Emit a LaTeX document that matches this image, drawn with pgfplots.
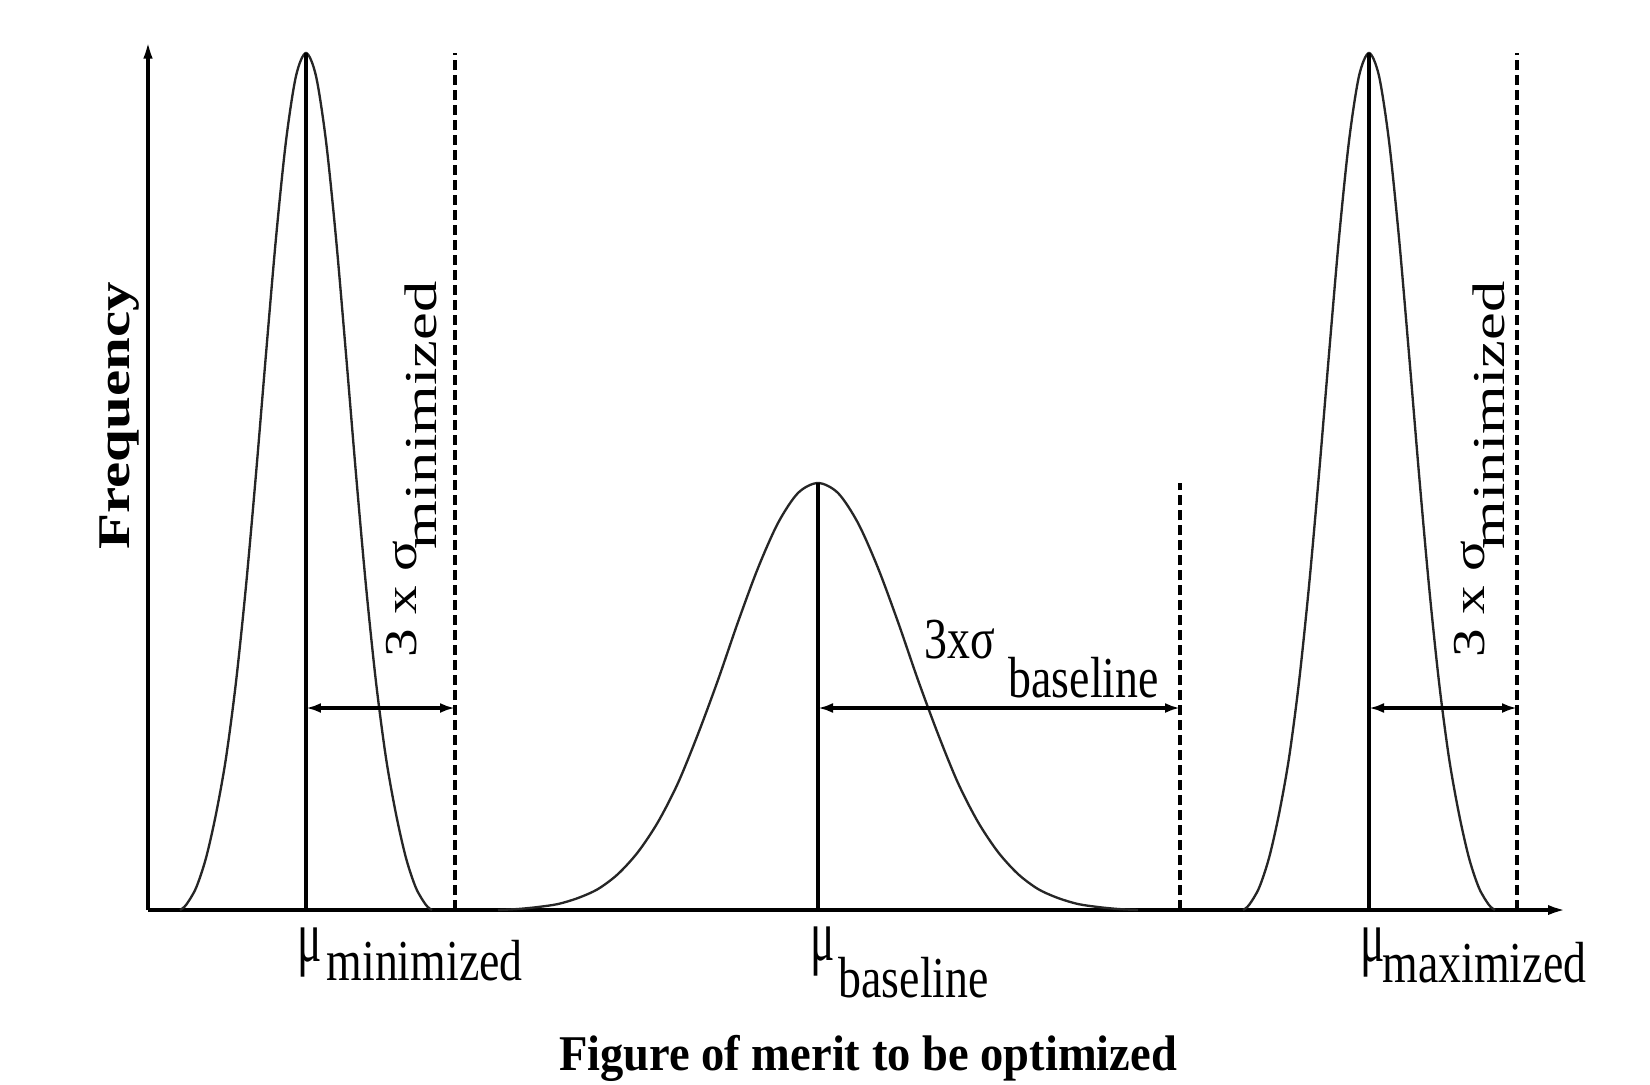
\documentclass[border=0pt]{standalone}
\usepackage{fontspec}
\usepackage{pgfplots}
\pgfplotsset{compat=1.18}
\usetikzlibrary{arrows.meta}
\setmainfont{Liberation Serif}
% the reference is stretched vertically, so the fonts are stretched too
\newfontfamily\hfont[FakeStretch=0.79]{Liberation Serif}
\newfontfamily\mufont[FakeStretch=0.62]{Liberation Serif}
\newfontfamily\vfont[FakeStretch=1.25]{Liberation Serif}
\newfontfamily\vsfont[FakeStretch=1.37]{Liberation Serif}
\newfontfamily\tfont[FakeStretch=0.93]{Liberation Serif}
\newfontfamily\ffont[FakeStretch=1.3]{Liberation Serif}

\pgfplotstableread{
x y
180 0
186 5
196 22
206 52
216 96
226 152
236 228
246 324
256 436
266 556
276 672
286 769
296 834
306 857
316 834
326 769
336 672
346 556
356 436
366 324
376 228
386 152
396 96
406 52
416 22
426 5
432 0
}\minimized

\pgfplotstableread{
x y
498 0
518 1
538 3
558 6
578 12
598 21
618 36
638 58
658 88
678 127
698 176
718 230
738 288
758 342
778 387
798 417
818 427
838 417
858 387
878 342
898 288
918 230
938 176
958 127
978 88
998 58
1018 36
1038 21
1058 12
1078 6
1098 3
1118 1
1138 0
}\baseline

\pgfplotstableread{
x y
1243 0
1249 5
1259 22
1269 52
1279 96
1289 152
1299 228
1309 324
1319 436
1329 556
1339 672
1349 769
1359 834
1369 857
1379 834
1389 769
1399 672
1409 556
1419 436
1429 324
1439 228
1449 152
1459 96
1469 52
1479 22
1489 5
1495 0
}\maximized

\begin{document}
\begin{tikzpicture}
\begin{axis}[
    x=0.3pt, y=0.3pt,
    xmin=148, xmax=1568, ymin=0, ymax=878,
    enlargelimits=false,
    axis lines=left,
    axis line style={line width=1.3pt},
    x axis line style={-{Latex[length=6pt,width=3pt]}},
    y axis line style={-{Latex[length=8pt,width=2.6pt]}},
    xtick=\empty, ytick=\empty,
    clip=false,
]
% page frame of the reference
\path (axis cs:0,-174) rectangle (axis cs:1650,910);

% distributions
\addplot[smooth, black!85, line width=0.7pt] table[x=x,y=y] {\minimized};
\addplot[smooth, black!85, line width=0.7pt] table[x=x,y=y] {\baseline};
\addplot[smooth, black!85, line width=0.7pt] table[x=x,y=y] {\maximized};

% means
\addplot[black, line width=1.2pt] coordinates {(306,0) (306,857)};
\addplot[black, line width=1.2pt] coordinates {(818,0) (818,427)};
\addplot[black, line width=1.2pt] coordinates {(1369,0) (1369,857)};

% 3 sigma limits
\addplot[black, line width=1.1pt, dash pattern=on 3pt off 1.5pt] coordinates {(455,0) (455,857)};
\addplot[black, line width=1.1pt, dash pattern=on 3pt off 1.5pt] coordinates {(1180,0) (1180,427)};
\addplot[black, line width=1.1pt, dash pattern=on 3pt off 1.5pt] coordinates {(1517,0) (1517,857)};

% spans
\addplot[black, line width=1.2pt, {Latex[length=4.5pt,width=3pt]}-{Latex[length=4.5pt,width=3pt]}] coordinates {(306,202) (455,202)};
\addplot[black, line width=1.2pt, {Latex[length=4.5pt,width=3pt]}-{Latex[length=4.5pt,width=3pt]}] coordinates {(818,202) (1180,202)};
\addplot[black, line width=1.2pt, {Latex[length=4.5pt,width=3pt]}-{Latex[length=4.5pt,width=3pt]}] coordinates {(1369,202) (1517,202)};

% labels under the axis
\begin{scope}[every node/.style={anchor=base west, inner sep=0pt}]
\node[font=\mufont\fontsize{22}{24}\selectfont] at (axis cs:297,-51) {μ};
\node[font=\mufont\fontsize{22}{24}\selectfont] at (axis cs:810,-50) {μ};
\node[font=\mufont\fontsize{22}{24}\selectfont] at (axis cs:1360,-51) {μ};
\end{scope}
\begin{scope}[every node/.style={anchor=base west, inner sep=0pt, font=\hfont\fontsize{17.4}{20}\selectfont}]
\node at (axis cs:326,-70) {minimized};
\node at (axis cs:838,-87) {baseline};
\node at (axis cs:1382,-72) {maximized};
\node at (axis cs:924,252) {3xσ};
\node at (axis cs:1008,213) {baseline};
\end{scope}

\begin{scope}[every node/.style={anchor=base west, rotate=90, inner sep=0pt}]
\node[font=\vfont\fontsize{13.7}{16}\selectfont] at (axis cs:417,252) {3 x σ};
\node[font=\vsfont\fontsize{13.7}{16}\selectfont] at (axis cs:437,360) {minimized};
\node[font=\vfont\fontsize{13.7}{16}\selectfont] at (axis cs:1484,252) {3 x σ};
\node[font=\vsfont\fontsize{13.7}{16}\selectfont] at (axis cs:1504,360) {minimized};
\end{scope}

\node[anchor=base, rotate=90, inner sep=0pt, font=\ffont\bfseries\fontsize{13.6}{16}\selectfont] at (axis cs:130,494) {Frequency};
\node[anchor=base, inner sep=0pt, font=\tfont\bfseries\fontsize{15}{18}\selectfont] at (axis cs:868,-160) {Figure of merit to be optimized};
\end{axis}
\end{tikzpicture}
\end{document}
